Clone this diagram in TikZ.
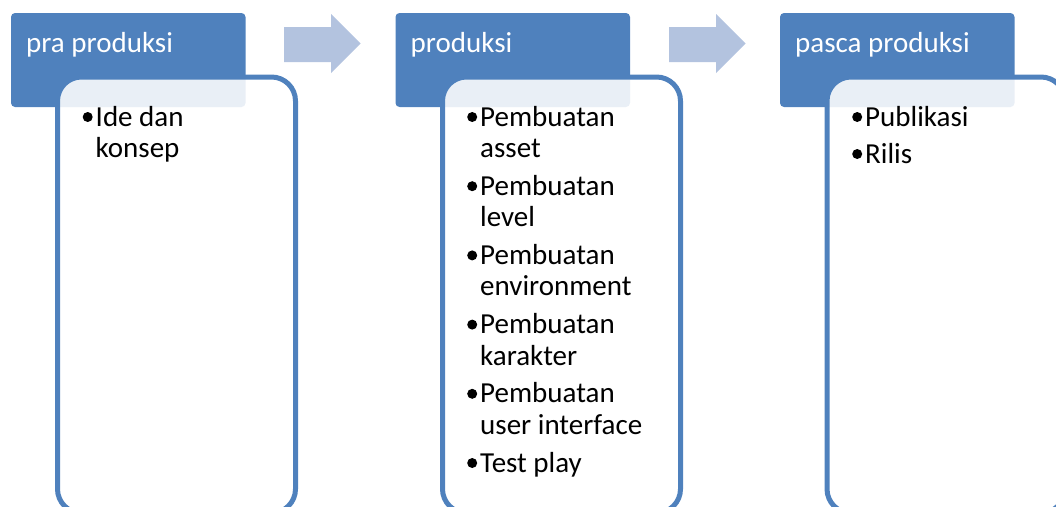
\documentclass[tikz,border=0pt]{standalone}
\usepackage{fontspec}
\setmainfont{Carlito}
\definecolor{hdr}{HTML}{4F81BD}
\definecolor{arr}{HTML}{B3C3DF}
\tikzset{
  header/.style={fill=hdr, rounded corners=4pt, inner sep=0pt, outer sep=0pt, anchor=north west,
    minimum width=234.5pt, minimum height=94pt},
  bodybox/.style={draw=hdr, line width=5pt, fill=white, fill opacity=0.88, rounded corners=24pt,
    inner sep=0pt, outer sep=0pt, anchor=north west, minimum width=238pt, minimum height=436pt},
  htext/.style={anchor=base west, inner sep=0pt, text=white, font=\fontsize{29}{32}\selectfont},
  btext/.style={anchor=base west, inner sep=0pt, text=black, font=\fontsize{29}{32}\selectfont},
  flowarrow/.style={fill=arr}
}
\newcommand{\bul}{\llap{\tikz[baseline=0pt]\fill[black] (0pt,9pt) circle (5pt);\hspace{3pt}}}
\begin{document}
\begin{tikzpicture}[x=1pt,y=-1pt]
\useasboundingbox (0,0) rectangle (1056,506);
\clip (0,0) rectangle (1056,506);
% headers
\node[header] (h1) at (11,13) {};
\node[header] (h2) at (395.5,13) {};
\node[header] (h3) at (780,13) {};
% bodies
\node[bodybox] (b1) at (57.5,77) {};
\node[bodybox] (b2) at (442.5,77) {};
\node[bodybox] (b3) at (827,77) {};
% arrows
\fill[flowarrow] (284,27) -- (331,27) -- (331,14) -- (360.5,43.5) -- (331,73) -- (331,62) -- (284,62) -- cycle;
\fill[flowarrow] (669,27) -- (716,27) -- (716,14) -- (745.5,43.5) -- (716,73) -- (716,62) -- (669,62) -- cycle;
% header texts
\node[htext] (ht1) at (26,52) {pra produksi};
\node[htext] (ht2) at (410.5,52) {produksi};
\node[htext] (ht3) at (795,52) {pasca produksi};
% box 1 texts
\node[btext] (a1) at (95.5,126) {\bul Ide dan};
\node[btext] (a2) at (95.5,157.5) {konsep};
% box 2 texts
\node[btext] (c1) at (480,126) {\bul Pembuatan};
\node[btext] (c2) at (480,157.5) {asset};
\node[btext] (c3) at (480,195.2) {\bul Pembuatan};
\node[btext] (c4) at (480,226.7) {level};
\node[btext] (c5) at (480,264.4) {\bul Pembuatan};
\node[btext] (c6) at (480,295.9) {environment};
\node[btext] (c7) at (480,333.6) {\bul Pembuatan};
\node[btext] (c8) at (480,365.1) {karakter};
\node[btext] (c9) at (480,402.8) {\bul Pembuatan};
\node[btext] (c10) at (480,434.3) {user interface};
\node[btext] (c11) at (480,472) {\bul Test play};
% box 3 texts
\node[btext] (d1) at (865,126) {\bul Publikasi};
\node[btext] (d2) at (865,163) {\bul Rilis};
\end{tikzpicture}
\end{document}
